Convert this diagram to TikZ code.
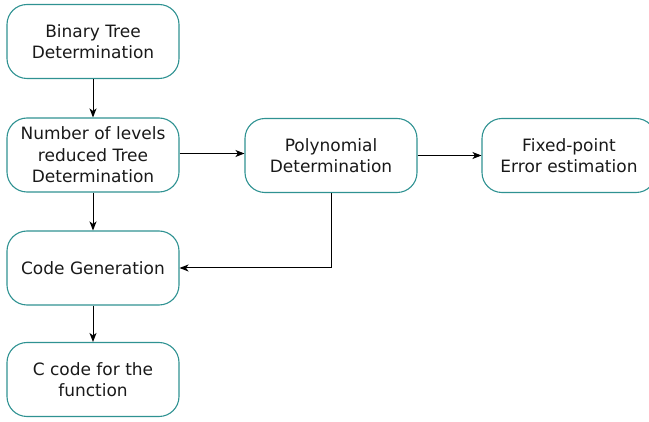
\documentclass[tikz,border=0pt]{standalone}
\usepackage{fontspec}
\setmainfont{DejaVu Sans}
\usetikzlibrary{arrows.meta}
\definecolor{boxteal}{HTML}{2F9292}
\begin{document}
\begin{tikzpicture}[x=1pt,y=1pt,
  flowbox/.style={draw=boxteal, line width=1.1pt, rounded corners=20pt,
    minimum width=172pt, minimum height=74pt, align=center,
    font=\fontsize{17}{21.5}\selectfont, text=black!90, inner sep=0pt},
  conn/.style={draw=black, line width=1pt, -{Stealth[length=9pt,width=7pt,inset=2.5pt]}}]
\useasboundingbox (0,0) rectangle (649,-422);
\node[flowbox] (b1) at (93,-41.5) {Binary Tree\\Determination};
\node[flowbox] (b2) at (93,-155) {Number of levels\\reduced Tree\\Determination};
\node[flowbox] (b3) at (93,-268) {Code Generation};
\node[flowbox] (b4) at (93,-379.5) {C code for the\\function};
\node[flowbox] (b5) at (331,-155.5) {Polynomial\\Determination};
\node[flowbox, minimum width=174pt] (b6) at (569,-155.5) {Fixed-point\\Error estimation};
\draw[conn] (b1) -- (b2);
\draw[conn] (b2) -- (b3);
\draw[conn] (b3) -- (b4);
\draw[conn] ([yshift=1.5pt]b2.east) -- ([yshift=1.5pt]b2.east -| b5.west);
\draw[conn] (b5) -- (b6);
\draw[conn] (b5.south) |- (b3.east);
\end{tikzpicture}
\end{document}
